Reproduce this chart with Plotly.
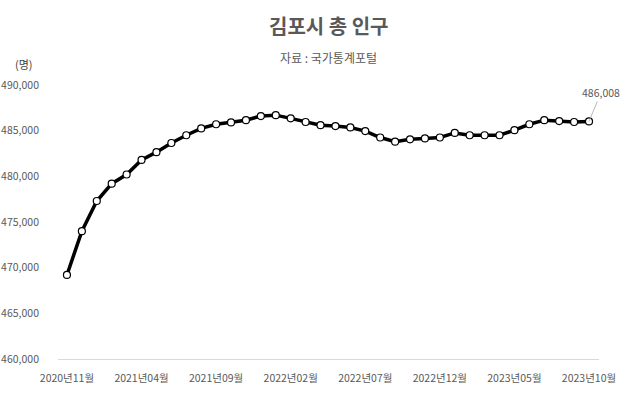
import plotly.graph_objects as go

months = []
for y in range(2020, 2024):
    for m in range(1, 13):
        if (y == 2020 and m < 11) or (y == 2023 and m > 10):
            continue
        months.append(f"{y}년{m:02d}월")

population = [469200, 474000, 477300, 479200, 480200, 481800, 482650, 483650,
              484500, 485250, 485700, 485900, 486150, 486600, 486700, 486350,
              485950, 485600, 485500, 485350, 484950, 484250, 483800, 484050,
              484150, 484250, 484750, 484500, 484500, 484500, 485050, 485700,
              486150, 486050, 485950, 486008]

tick_labels = months[::5]
y_ticks = [460000, 465000, 470000, 475000, 480000, 485000, 490000]

FONT = "Noto Sans CJK KR"
GRAY = "#595959"

fig = go.Figure()
fig.add_trace(go.Scatter(
    x=months, y=population, mode="lines+markers",
    line=dict(color="black", width=3.5),
    marker=dict(size=7, color="white", line=dict(color="black", width=1.2)),
    showlegend=False,
))

fig.add_annotation(
    x=months[-1], y=population[-1], text=f"{population[-1]:,}",
    showarrow=True, arrowhead=0, arrowwidth=0.8, arrowcolor="#a6a6a6",
    ax=12, ay=-29, font=dict(family=FONT, size=10.5, color=GRAY),
)

fig.add_annotation(
    xref="paper", yref="paper", x=0.5, y=1, yshift=60,
    text="<b>김포시 총 인구</b>", showarrow=False,
    font=dict(family=FONT, size=20, color=GRAY), xanchor="center", yanchor="middle",
)
fig.add_annotation(
    xref="paper", yref="paper", x=0.5, y=1, yshift=28,
    text="자료 : 국가통계포털", showarrow=False,
    font=dict(family=FONT, size=12, color=GRAY), xanchor="center", yanchor="middle",
)
fig.add_annotation(
    xref="paper", yref="paper", x=0, xshift=-34, y=1, yshift=21,
    text="(명)", showarrow=False,
    font=dict(family=FONT, size=11, color="#404040"), xanchor="center", yanchor="middle",
)

fig.update_layout(
    width=634, height=397,
    margin=dict(l=58, r=35, t=85, b=38),
    paper_bgcolor="white", plot_bgcolor="white",
    font=dict(family=FONT, size=10.5, color=GRAY),
)
fig.update_xaxes(
    type="category", range=[-0.6, len(months) - 0.33],
    tickmode="array", tickvals=tick_labels, ticktext=tick_labels,
    showgrid=False, showline=True, linecolor="#d9d9d9", linewidth=1,
    ticks="", tickangle=0, tickfont=dict(size=10.5, color=GRAY),
    automargin=False, ticklabelstandoff=9,
)
fig.update_yaxes(
    range=[460000, 490000], tickvals=y_ticks,
    ticktext=[f"{v:,}" for v in y_ticks],
    showgrid=False, zeroline=False, showline=False,
    ticks="", ticklabelstandoff=18, tickfont=dict(size=10.5, color=GRAY),
    automargin=False,
)

fig.write_html("out.html", config={"displayModeBar": False},
               post_script="document.body.style.margin='0';")
